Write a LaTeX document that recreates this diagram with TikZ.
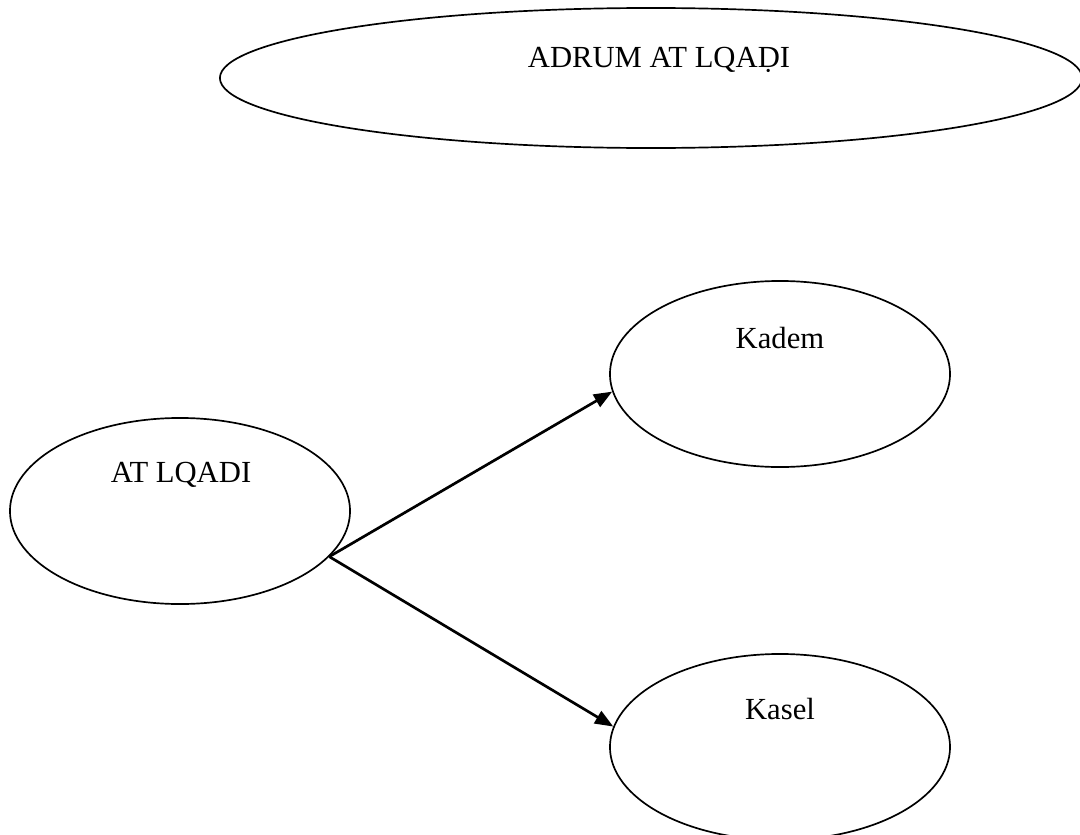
\documentclass[tikz,border=0pt]{standalone}
\usepackage{fontspec}
\setmainfont{Liberation Serif}
\usetikzlibrary{arrows.meta}
\usetikzlibrary{shapes.geometric}

\tikzset{
  bubble/.style={draw, ellipse, line width=1.2pt, inner sep=0pt,
    minimum width=8.5cm, minimum height=4.65cm},
  caption/.style={anchor=base, inner sep=0pt, font=\fontsize{21.8}{26}\selectfont},
  link/.style={line width=1.9pt, -{Triangle[length=13pt,width=10pt]}}
}

\begin{document}
\begin{tikzpicture}[x=0.025cm, y=-0.025cm]
        \useasboundingbox (0,0) rectangle (1080,835);
        % ellipses
        \node[bubble, minimum width=21.55cm, minimum height=3.5cm] (adrum) at (651,78) {};
        \node[bubble] (atlqadi) at (180,511) {};
        \node[bubble] (kadem) at (780,374) {};
        \node[bubble] (kasel) at (780,747) {};
        % texts
        \node[caption] (adrumtxt) at (659,67) {ADRUM AT LQAḌI};
        \node[caption] (atlqaditxt) at (181,482) {AT LQADI};
        \node[caption] (kademtxt) at (780,348) {Kadem};
        \node[caption] (kaseltxt) at (780,719) {Kasel};
        % arrows
        \coordinate (fork) at (atlqadi.-17);
        \draw[link] (fork) -- (kadem.186);
        \draw[link] (fork) -- (kasel.173);
\end{tikzpicture}
\end{document}
